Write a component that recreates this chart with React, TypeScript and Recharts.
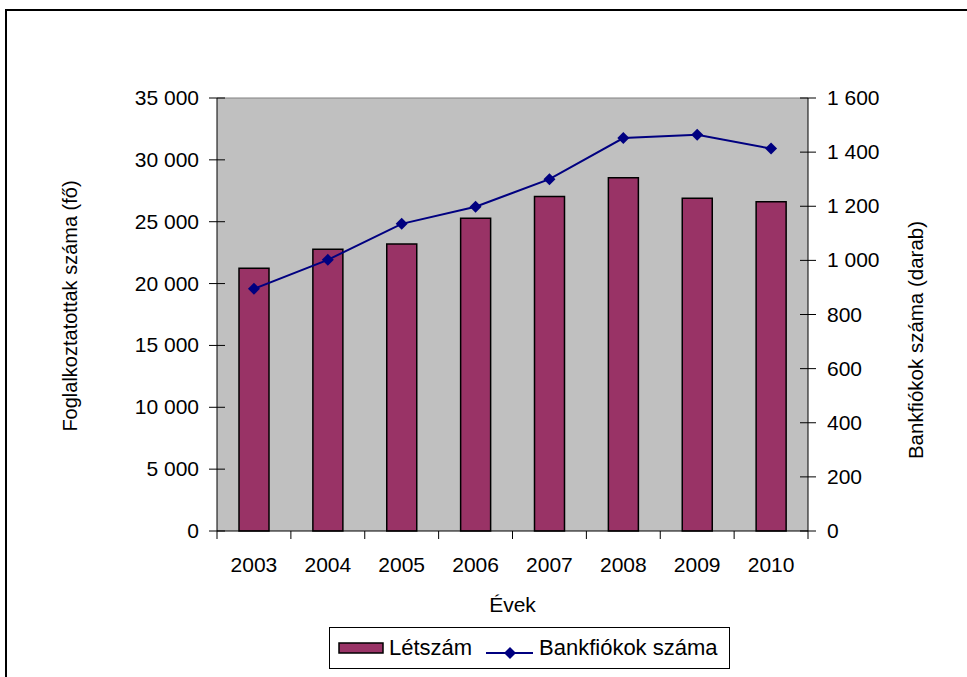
import { Bar, ComposedChart, Line, XAxis, YAxis, CartesianGrid, ReferenceLine, Label } from "recharts";

const years = ["2003", "2004", "2005", "2006", "2007", "2008", "2009", "2010"];
const letszam = [21240, 22770, 23200, 25280, 27030, 28560, 26900, 26620];
const bankfiokok = [895, 1002, 1135, 1198, 1300, 1452, 1464, 1413];
const leftTicks = [0, 5000, 10000, 15000, 20000, 25000, 30000, 35000];
const rightTicks = [0, 200, 400, 600, 800, 1000, 1200, 1400, 1600];

const data = years.map((y, i) => ({ year: y, letszam: letszam[i], fiok: bankfiokok[i] }));

const FONT = "'Liberation Sans', Arial, sans-serif";
const FS = 21;
const BAR_FILL = "#993366";
const LINE_COLOR = "#000080";

const fmt = (v: number) => v.toString().replace(/\B(?=(\d{3})+(?!\d))/g, " ");

const Diamond = (props: any) => {
  const { cx, cy } = props;
  if (cx == null || cy == null) return null;
  const r = 6;
  return <polygon points={`${cx},${cy - r} ${cx + r},${cy} ${cx},${cy + r} ${cx - r},${cy}`} fill={LINE_COLOR} />;
};

// category labels centred, tick marks on the band edges
const YearTick = (props: any) => {
  const { x, y, payload, width, visibleTicksCount, index } = props;
  const band = width / visibleTicksCount;
  return (
    <g>
      <line x1={x - band / 2} x2={x - band / 2} y1={y - 8} y2={y} stroke="#000" />
      {index === visibleTicksCount - 1 && (
        <line x1={x + band / 2} x2={x + band / 2} y1={y - 8} y2={y} stroke="#000" />
      )}
      <text x={x} y={y + 33} textAnchor="middle" fontSize={FS} fontFamily={FONT} fill="#000">
        {payload.value}
      </text>
    </g>
  );
};

// value ticks that cross the axis line
const makeValueTick = (side: "left" | "right") => (props: any) => {
  const { x, y, payload } = props;
  const ax = side === "left" ? x + 18 : x - 19;
  return (
    <g>
      <line x1={ax - 8} x2={ax + 8} y1={y} y2={y} stroke="#000" />
      <text
        x={x}
        y={y + 7}
        textAnchor={side === "left" ? "end" : "start"}
        fontSize={FS}
        fontFamily={FONT}
        fill="#000"
      >
        {fmt(payload.value)}
      </text>
    </g>
  );
};

const LeftTick = makeValueTick("left");
const RightTick = makeValueTick("right");

export default function App() {
  return (
    <div style={{ position: "fixed", left: 0, top: 0, width: 967, height: 677, background: "#fff", overflow: "hidden" }}>
      <div
        style={{
          position: "absolute",
          left: 5,
          top: 9,
          width: 1000,
          height: 700,
          borderLeft: "2px solid #000",
          borderTop: "2px solid #000",
        }}
      />
      <div style={{ position: "absolute", left: 0, top: 0 }}>
        <ComposedChart
          width={967}
          height={677}
          data={data}
          margin={{ top: 98, right: 0, bottom: 116, left: 0 }}
          barSize={30}
        >
          <CartesianGrid horizontal={false} vertical={false} fill="#c0c0c0" />
          <XAxis
            dataKey="year"
            height={30}
            tickLine={false}
            axisLine={{ stroke: "#000" }}
            tick={<YearTick />}
            interval={0}
          >
            <Label value="Évek" position="insideBottom" offset={-51} fontSize={FS} fontFamily={FONT} fill="#000" />
          </XAxis>
          <YAxis
            yAxisId="left"
            width={217}
            domain={[0, 35000]}
            ticks={leftTicks}
            tickSize={8}
            tickMargin={10}
            axisLine={{ stroke: "#000" }}
            tickLine={false}
            tick={<LeftTick />}
            interval={0}
          >
            <Label
              content={() => (
                <text
                  x={70}
                  y={306}
                  transform="rotate(-90 70 306)"
                  textAnchor="middle"
                  dominantBaseline="central"
                  fontSize={20}
                  fontFamily={FONT}
                  fill="#000"
                >
                  Foglalkoztatottak száma (fő)
                </text>
              )}
            />
          </YAxis>
          <YAxis
            yAxisId="right"
            orientation="right"
            width={159}
            domain={[0, 1600]}
            ticks={rightTicks}
            tickSize={7}
            tickMargin={12}
            axisLine={{ stroke: "#000" }}
            tickLine={false}
            tick={<RightTick />}
            interval={0}
          >
            <Label
              content={() => (
                <text
                  x={915}
                  y={340}
                  transform="rotate(-90 915 340)"
                  textAnchor="middle"
                  dominantBaseline="central"
                  fontSize={20.5}
                  fontFamily={FONT}
                  fill="#000"
                >
                  Bankfiókok száma (darab)
                </text>
              )}
            />
          </YAxis>
          <ReferenceLine yAxisId="left" y={35000} stroke="#808080" />
          <Bar
            yAxisId="left"
            dataKey="letszam"
            fill={BAR_FILL}
            stroke="#000"
            strokeWidth={1.5}
            isAnimationActive={false}
          />
          <Line
            yAxisId="right"
            dataKey="fiok"
            stroke={LINE_COLOR}
            strokeWidth={2}
            dot={<Diamond />}
            activeDot={false}
            isAnimationActive={false}
          />
        </ComposedChart>
      </div>
      <div
        style={{
          position: "absolute",
          left: 329,
          top: 627,
          width: 401,
          height: 42,
          border: "1px solid #000",
          boxSizing: "border-box",
          fontFamily: FONT,
          fontSize: 22,
        }}
      >
        <svg width={401} height={40} style={{ position: "absolute", left: 0, top: 0 }}>
          <rect x={9} y={15} width={44} height={10} fill={BAR_FILL} stroke="#000" strokeWidth={1.5} />
          <line x1={156} x2={203} y1={25} y2={25} stroke={LINE_COLOR} strokeWidth={2} />
          <Diamond cx={180} cy={25} />
        </svg>
        <span style={{ position: "absolute", left: 59, top: 7, lineHeight: "25px" }}>Létszám</span>
        <span style={{ position: "absolute", left: 209, top: 7, lineHeight: "25px" }}>Bankfiókok száma</span>
      </div>
    </div>
  );
}
